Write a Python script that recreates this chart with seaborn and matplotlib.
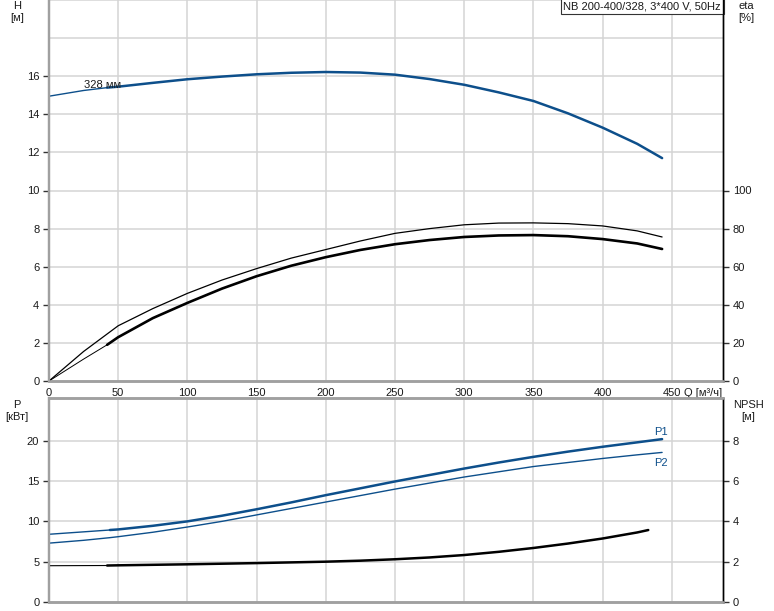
import matplotlib
matplotlib.use("Agg")
import matplotlib.pyplot as plt
import seaborn as sns
import pandas as pd

# ---------------- data ----------------
q_h = [0, 25, 42, 50, 75, 100, 125, 150, 175, 200, 225, 250, 275, 300, 325, 350, 375, 400, 425, 443]
h_vals = [14.95, 15.25, 15.4, 15.45, 15.65, 15.84, 15.98, 16.1, 16.18, 16.22, 16.19, 16.08, 15.85,
          15.55, 15.15, 14.7, 14.05, 13.3, 12.45, 11.7]

q_eta_thin = [0, 25, 50, 75, 100, 125, 150, 175, 200, 225, 250, 275, 300, 325, 350, 375, 400, 425, 443]
eta_thin = [0, 15.5, 29.0, 38.0, 46.0, 53.0, 59.0, 64.5, 69.0, 73.5, 77.5, 80.0, 82.0, 82.9, 83.0,
            82.6, 81.4, 78.8, 75.6]
q_eta = [0, 25, 42, 50, 75, 100, 125, 150, 175, 200, 225, 250, 275, 300, 325, 350, 375, 400, 425, 443]
eta_vals = [0, 11.5, 19.0, 23.0, 33.0, 41.0, 48.5, 55.0, 60.5, 65.0, 68.8, 71.8, 74.0, 75.6, 76.4,
            76.6, 76.0, 74.5, 72.2, 69.3]

q_p = [0, 25, 44, 50, 75, 100, 125, 150, 175, 200, 225, 250, 275, 300, 325, 350, 375, 400, 425, 443]
p1_vals = [8.4, 8.7, 8.93, 9.0, 9.45, 10.0, 10.7, 11.5, 12.35, 13.25, 14.1, 14.95, 15.75, 16.55,
           17.3, 18.0, 18.65, 19.25, 19.8, 20.2]
p2_vals = [7.3, 7.65, 7.98, 8.1, 8.65, 9.3, 10.0, 10.8, 11.6, 12.4, 13.2, 14.0, 14.75, 15.5,
           16.15, 16.8, 17.3, 17.8, 18.25, 18.55]

q_npsh = [0, 42, 50, 100, 150, 200, 225, 250, 275, 300, 325, 350, 375, 400, 425, 433]
npsh_vals = [1.8, 1.81, 1.82, 1.87, 1.93, 2.0, 2.05, 2.12, 2.21, 2.33, 2.49, 2.68, 2.9, 3.15, 3.45, 3.57]

q_start = 42  # start of the bold (operating) range
x_ticks = [0, 50, 100, 150, 200, 250, 300, 350, 400, 450]
h_ticks = [0, 2, 4, 6, 8, 10, 12, 14, 16]
eta_ticks = [0, 20, 40, 60, 80, 100]
p_ticks = [0, 5, 10, 15, 20]
npsh_ticks = [0, 2, 4, 6, 8]

title_text = "NB 200-400/328, 3*400 V, 50Hz"
curve_label = "328 мм"

# ---------------- style ----------------
sns.set_style("white")
plt.rcParams["font.family"] = ["Liberation Sans", "DejaVu Sans"]
plt.rcParams["font.size"] = 8

BLUE = "#0d4f8b"
GRID = "#d4d4d4"
SPINE_GRAY = "#a0a0a0"
TXT = "#1a1a1a"
TS = 8

fig = plt.figure(figsize=(7.74, 6.11), dpi=100)
W, Hh = 774, 611
ax1 = fig.add_axes([49 / W, 1 - 381 / Hh, (723 - 49) / W, 381 / Hh])
ax3 = fig.add_axes([49 / W, 1 - 602 / Hh, (723 - 49) / W, (602 - 398) / Hh])
ax2 = ax1.twinx()
ax4 = ax3.twinx()

XMAX = 487
PMAX = 25.3


def split(q, v, start):
    thin = pd.DataFrame({"Q": [a for a in q if a <= start], "v": [b for a, b in zip(q, v) if a <= start]})
    bold = pd.DataFrame({"Q": [a for a in q if a >= start], "v": [b for a, b in zip(q, v) if a >= start]})
    return thin, bold


kw = dict(estimator=None, sort=False)

# ---- top panel: H ----
th, bo = split(q_h, h_vals, q_start)
sns.lineplot(data=th, x="Q", y="v", ax=ax1, color=BLUE, lw=1.0, **kw)
sns.lineplot(data=bo, x="Q", y="v", ax=ax1, color=BLUE, lw=1.8, **kw)

# ---- top panel: eta (right axis) ----
sns.lineplot(data=pd.DataFrame({"Q": q_eta_thin, "v": eta_thin}), x="Q", y="v", ax=ax2,
             color="black", lw=0.9, **kw)
th, bo = split(q_eta, eta_vals, q_start)
sns.lineplot(data=th, x="Q", y="v", ax=ax2, color="black", lw=0.7, **kw)
sns.lineplot(data=bo, x="Q", y="v", ax=ax2, color="black", lw=1.9, **kw)

# ---- bottom panel: P1, P2 ----
th, bo = split(q_p, p1_vals, 44)
sns.lineplot(data=th, x="Q", y="v", ax=ax3, color=BLUE, lw=1.0, **kw)
sns.lineplot(data=bo, x="Q", y="v", ax=ax3, color=BLUE, lw=1.8, **kw)
sns.lineplot(data=pd.DataFrame({"Q": q_p, "v": p2_vals}), x="Q", y="v", ax=ax3,
             color=BLUE, lw=1.0, **kw)

# ---- bottom panel: NPSH ----
th, bo = split(q_npsh, npsh_vals, q_start)
sns.lineplot(data=th, x="Q", y="v", ax=ax4, color="black", lw=0.8, **kw)
sns.lineplot(data=bo, x="Q", y="v", ax=ax4, color="black", lw=1.8, **kw)

# ---------------- axes formatting ----------------
for ax in (ax1, ax2, ax3, ax4):
    ax.set_xlim(0, XMAX)
    ax.set_xlabel("")
    ax.set_ylabel("")

ax1.set_ylim(0, 20)
ax2.set_ylim(0, 200)
ax3.set_ylim(0, PMAX)
ax4.set_ylim(0, PMAX * 0.4)

# grids
for ax, ys in ((ax1, list(range(2, 21, 2))), (ax3, [5, 10, 15, 20])):
    for y in ys:
        ax.axhline(y, color=GRID, lw=1.1, zorder=0)
    for x in x_ticks[1:]:
        ax.axvline(x, color=GRID, lw=1.1, zorder=0)

ax1.set_yticks(h_ticks)
ax2.set_yticks(eta_ticks)
ax3.set_yticks(p_ticks)
ax4.set_yticks(npsh_ticks)

ax1.set_xticks(x_ticks)
ax1.set_xticklabels([str(x) for x in x_ticks])
ax3.set_xticks(x_ticks)
ax3.set_xticklabels([])

for ax in (ax1, ax3):
    ax.tick_params(axis="y", which="both", left=True, direction="out", length=4, width=1,
                   color="#333333", labelsize=TS, labelcolor=TXT, pad=3)
    ax.tick_params(axis="x", length=0, labelsize=TS, labelcolor=TXT, pad=5)
for ax in (ax2, ax4):
    ax.tick_params(axis="y", which="both", right=True, direction="out", length=4, width=1,
                   color="#333333", labelsize=TS, labelcolor=TXT, pad=3)
    ax.tick_params(axis="x", length=0)

for ax in (ax1, ax2, ax3, ax4):
    ax.spines["left"].set_color(SPINE_GRAY)
    ax.spines["left"].set_linewidth(1.6)
    ax.spines["bottom"].set_color(SPINE_GRAY)
    ax.spines["bottom"].set_linewidth(1.8)
    ax.spines["right"].set_color("black")
    ax.spines["right"].set_linewidth(1.0)
for ax in (ax1, ax2):
    ax.spines["top"].set_visible(False)
for ax in (ax3, ax4):
    ax.spines["top"].set_color(SPINE_GRAY)
    ax.spines["top"].set_linewidth(1.8)


# axis titles (two lines each: name and unit)
def axis_title(x_px, y_px, name, unit):
    fig.text(x_px / W, 1 - y_px / Hh, name, ha="center", va="top", fontsize=TS, color=TXT)
    fig.text(x_px / W, 1 - (y_px + 12) / Hh, unit, ha="center", va="top", fontsize=TS, color=TXT)


axis_title(17, 1, "H", "[м]")
axis_title(746, 1, "eta", "[%]")
axis_title(17, 400, "P", "[кВт]")
axis_title(748, 400, "NPSH", "[м]")

# Q unit after 450
ax1.annotate("Q [м³/ч]", xy=(459, 0), xycoords=("data", "axes fraction"), xytext=(0, -5),
             textcoords="offset points", ha="left", va="top", fontsize=TS, color=TXT,
             annotation_clip=False)

# title box
ax1.text(0.997, 0.997, title_text, transform=ax1.transAxes, ha="right", va="top", fontsize=8, color=TXT,
         bbox=dict(boxstyle="square,pad=0.25", fc="white", ec="#333333", lw=0.8), zorder=10)

# curve labels
ax1.text(25, 15.25, curve_label, ha="left", va="bottom", fontsize=TS, color=TXT)
ax3.text(437, 20.5, "P1", ha="left", va="bottom", fontsize=TS, color=BLUE)
ax3.text(437, 17.9, "P2", ha="left", va="top", fontsize=TS, color=BLUE)

for ax in (ax1, ax2, ax3, ax4):
    leg = ax.get_legend()
    if leg:
        leg.remove()

fig.savefig("out.png", dpi=100)
